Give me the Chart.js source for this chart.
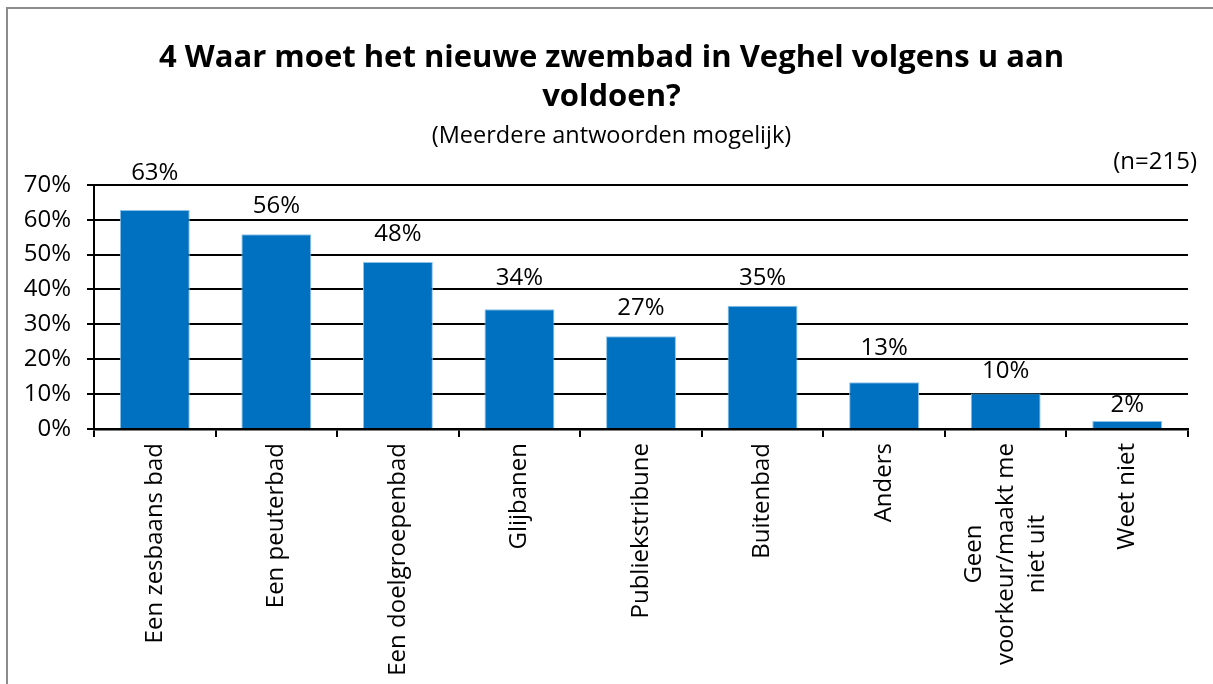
<!DOCTYPE html>
<html>
<head>
<meta charset="utf-8">
<script src="https://cdn.jsdelivr.net/npm/chart.js@4/dist/chart.umd.min.js"></script>
<style>
  html, body { margin: 0; padding: 0; background: #fff; overflow: hidden; }
  #wrap { position: absolute; left: 6px; top: 7px; width: 1230px; height: 700px; border: 2px solid #8c8c8c; box-sizing: border-box; }
  #cChart { position: absolute; left: 0; top: 0; }
</style>
</head>
<body>
<div id="wrap"></div>
<canvas id="cChart" width="1213" height="684"></canvas>
<script>
const categories = [
  'Een zesbaans bad',
  'Een peuterbad',
  'Een doelgroepenbad',
  'Glijbanen',
  'Publiekstribune',
  'Buitenbad',
  'Anders',
  ['Geen', 'voorkeur/maakt me', 'niet uit'],
  'Weet niet'
];
const values = [62.8, 55.8, 47.9, 34.3, 26.6, 35.3, 13.4, 10.2, 2.3];
const yTicks = ['0%', '10%', '20%', '30%', '40%', '50%', '60%', '70%'];
const sampleNote = '(n=215)';

const FONT = "'Open Sans', 'Noto Sans', sans-serif";

// value labels above the bars, nudged off the gridlines like Excel does
const valueLabels = {
  id: 'valueLabels',
  afterDatasetsDraw(chart) {
    const ctx = chart.ctx;
    const meta = chart.getDatasetMeta(0);
    const yScale = chart.scales.y;
    const lines = yScale.ticks.map(t => yScale.getPixelForValue(t.value));
    const half = 8.5, gap = 3;
    ctx.save();
    ctx.font = '24px ' + FONT;
    ctx.fillStyle = '#000';
    ctx.textAlign = 'center';
    ctx.textBaseline = 'middle';
    meta.data.forEach((bar, i) => {
      let c = bar.y - 28;
      const hit = lines.find(ly => Math.abs(c - ly) < half + gap);
      if (hit !== undefined) {
        const down = hit + half + gap;
        c = (down + half <= bar.y - 6) ? down : hit - half - gap;
      }
      ctx.fillText(Math.round(values[i]) + '%', bar.x, c);
    });
    // sample size note, top right
    ctx.textAlign = 'right';
    ctx.fillText(sampleNote, chart.chartArea.right + 9, chart.chartArea.top - 23);
    ctx.restore();
  }
};

// center multi-line rotated labels on their tick, lines centered on each other
const centerLabels = {
  id: 'centerLabels',
  afterLayout(chart) {
    // titles centred a bit right of the canvas middle, as in the original
    chart.boxes.forEach(b => {
      if (b.options && b.options.text && b.position === 'top') b.left += 35;
    });
  },
  beforeDraw(chart) {
    const scale = chart.scales.x;
    const ctx = chart.ctx;
    scale.getLabelItems().forEach(it => {
      if (!Array.isArray(it.label) || it._fixed) return;
      ctx.save();
      ctx.font = it.font.string;
      const w = Math.max(...it.label.map(s => ctx.measureText(s).width));
      ctx.restore();
      it.options.translation[0] -= (it.label.length - 1) / 2 * it.font.lineHeight;
      it.options.translation[1] += w / 2;
      it.options.textAlign = 'center';
      it._fixed = true;
    });
  }
};

const data = {
  labels: categories,
  datasets: [{
    data: values,
    backgroundColor: '#0070C0',
    borderColor: '#8cc2e8',
    borderWidth: { left: 1, right: 1, top: 1, bottom: 0 },
    categoryPercentage: 1,
    barPercentage: 0.575
  }]
};

const config = {
  type: 'bar',
  data: data,
  options: {
    responsive: false,
    animation: false,
    layout: { padding: { left: 0, right: 25, top: 38.5, bottom: 0 } },
    plugins: {
      legend: { display: false },
      tooltip: { enabled: false },
      title: {
        display: true,
        text: ['4 Waar moet het nieuwe zwembad in Veghel volgens u aan', 'voldoen?'],
        color: '#000',
        font: { family: FONT, size: 31, weight: 'bold', lineHeight: 1.26 },
        padding: { top: 0, bottom: 6 }
      },
      subtitle: {
        display: true,
        text: '(Meerdere antwoorden mogelijk)',
        color: '#000',
        font: { family: FONT, size: 23.5, lineHeight: 1.2 },
        padding: { top: 0, bottom: 34 }
      }
    },
    scales: {
      x: {
        offset: true,
        afterFit: (s) => { s.height = 255; },
        grid: { display: true, drawOnChartArea: false, offset: true, color: '#000', lineWidth: 2, tickLength: 8 },
        border: { color: '#000', width: 2.5 },
        ticks: {
          color: '#000',
          font: { family: FONT, size: 24, lineHeight: 1.3 },
          minRotation: 90,
          maxRotation: 90,
          autoSkip: false,
          padding: 6
        }
      },
      y: {
        min: 0,
        max: 70,
        afterFit: (s) => { s.width = 94; },
        grid: { color: '#000', lineWidth: 2, tickLength: 7 },
        border: { color: '#000', width: 2 },
        ticks: {
          stepSize: 10,
          color: '#000',
          font: { family: FONT, size: 24 },
          padding: 16,
          callback: (v) => yTicks[v / 10]
        }
      }
    }
  },
  plugins: [valueLabels, centerLabels]
};

const cChart = new Chart(document.getElementById('cChart'), config);
</script>
</body>
</html>
